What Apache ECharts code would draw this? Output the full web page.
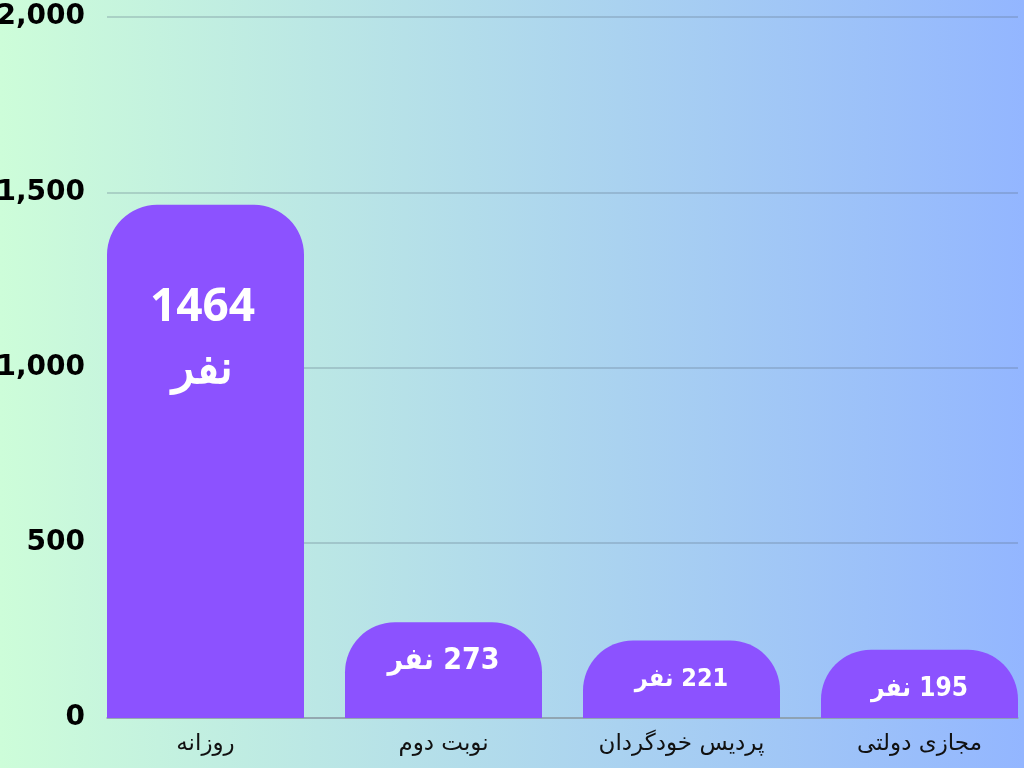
<!DOCTYPE html>
<html><head><meta charset="utf-8">
<script src="https://cdn.jsdelivr.net/npm/echarts@6/dist/echarts.min.js"></script>
<style>html,body{margin:0;padding:0;}#c{width:1024px;height:768px;}</style>
</head><body><div id="c"></div>
<script>
const categories = ['روزانه', 'نوبت دوم', 'پردیس خودگردان', 'مجازی دولتی'];
const values = [1464, 273, 221, 195];
const unitWord = 'نفر';
const yMin = 0, yMax = 2000, yInterval = 500;

const chart = echarts.init(document.getElementById('c'));
const labelSizes = [46, 30, 25, 26];
const labelDist = [72, 24, 26, 27];
const data = values.map((v, i) => ({
  value: v,
  label: i === 0 ? {
    show: true, position: 'insideTop', distance: labelDist[i],
    formatter: v + '\n' + unitWord,
    fontSize: labelSizes[i], lineHeight: 62, fontWeight: 'bold', color: '#fff',
    fontFamily: 'Open Sans', offset: [-3, 0]
  } : {
    show: true, position: 'insideTop', distance: labelDist[i],
    formatter: unitWord + '\u200E ' + v,
    fontSize: labelSizes[i], fontWeight: 'bold', color: '#fff',
    fontFamily: 'Liberation Sans Narrow, DejaVu Sans Condensed, DejaVu Sans'
  }
}));

chart.setOption({
  backgroundColor: {
    type: 'linear', x: 0, y: 0, x2: 1, y2: 0,
    colorStops: [{offset: 0, color: '#cdfdd9'}, {offset: 1, color: '#93b6ff'}]
  },
  animation: false,
  grid: [
    {left: 205.5, right: 104.5, top: 17, bottom: 50, outerBoundsMode: 'none', containLabel: false},
    {left: 107, right: 6, top: 17, bottom: 50, outerBoundsMode: 'none', containLabel: false}
  ],
  xAxis: [
    {
      gridIndex: 0, type: 'category', data: categories, boundaryGap: false,
      axisLine: {show: false}, axisTick: {show: false},
      axisLabel: {margin: 15, fontSize: 23, color: '#111', fontFamily: 'DejaVu Sans'}
    },
    {
      gridIndex: 1, type: 'value', min: 0, max: 1,
      axisLabel: {show: false}, axisTick: {show: false}, splitLine: {show: false},
      axisLine: {show: true, lineStyle: {color: '#8e9ea8', width: 1.5}}
    }
  ],
  yAxis: [
    {gridIndex: 0, type: 'value', min: yMin, max: yMax, interval: yInterval, show: false},
    {
      gridIndex: 1, type: 'value', min: yMin, max: yMax, interval: yInterval,
      axisLine: {show: false}, axisTick: {show: false},
      axisLabel: {margin: 22, fontSize: 28, fontWeight: 'bold', color: '#000', fontFamily: 'DejaVu Sans'},
      splitLine: {lineStyle: {color: 'rgba(90,110,130,0.35)', width: 1.5}}
    }
  ],
  series: [{
    type: 'bar', xAxisIndex: 0, yAxisIndex: 0, data: data,
    barWidth: 197, clip: false,
    itemStyle: {color: '#8c52ff', borderRadius: [50, 50, 0, 0]},
    z: 3
  }]
});
</script></body></html>
